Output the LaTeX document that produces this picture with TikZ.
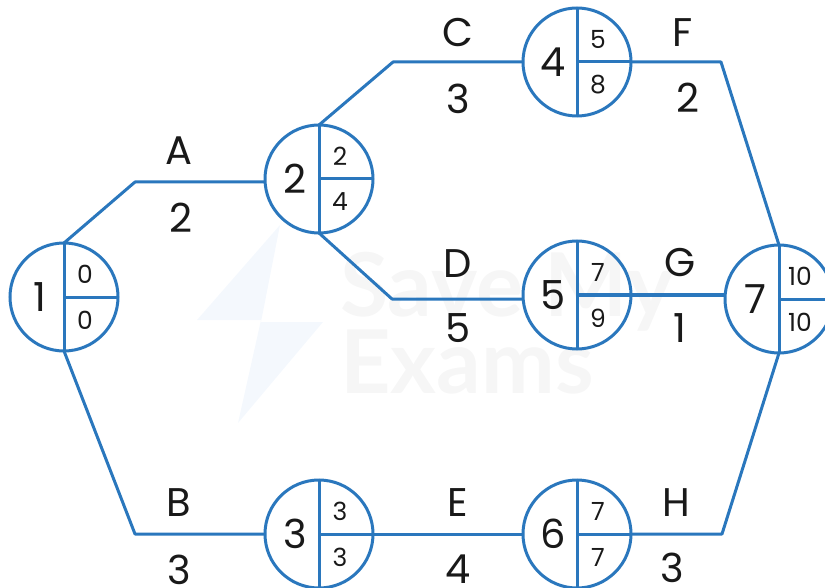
\documentclass[tikz,border=0pt]{standalone}
\usepackage{fontspec}
\setmainfont{Poppins}
\newfontfamily\markfont{Lato}
\definecolor{netblue}{HTML}{2A77BD}
\definecolor{markblue}{HTML}{F4F8FD}
\definecolor{markgray}{HTML}{F6F6F6}
\tikzset{
    event/.style={circle,draw=netblue,line width=3pt,minimum size=108pt,inner sep=0pt,outer sep=0pt},
    activity/.style={draw=netblue,line width=3pt,line join=round},
    biglabel/.style={inner sep=0pt,font=\fontsize{40}{40}\selectfont,text=black!90},
    smalllabel/.style={inner sep=0pt,font=\fontsize{25}{25}\selectfont,text=black!90},
    marktext/.style={inner sep=0pt,anchor=west,text=markgray,font=\markfont\bfseries\fontsize{88}{88}\selectfont}
}

\begin{document}
\begin{tikzpicture}[x=1pt,y=-1pt]
        \clip (0,0) rectangle (825,588);
        \fill[markblue] (280,225) -- (197,320) -- (261,320) -- (238,423) -- (323,322) -- (261,322) -- cycle;
        \node[marktext] (savemark) at (340,292) {Save My};
        \node[marktext] (exammark) at (340,362) {Exams};
        \foreach \id/\x/\y/\num/\early/\late in {1/64/297/1/0/0,2/319/179/2/2/4,3/319/534/3/3/3,
                4/577/62/4/5/8,5/577/295/5/7/9,6/577/534/6/7/7,7/779/299/7/10/10}{
            \node[event] (n\id) at (\x,\y) {};
            \draw[activity] (n\id.north) -- (n\id.south);
            \draw[activity] (n\id.center) -- (n\id.east);
            \node[biglabel] (num\id) at (\x-24,\y) {\num};
            \node[smalllabel] (early\id) at (\x+21,\y-23) {\early};
            \node[smalllabel] (late\id) at (\x+21,\y+23) {\late};
        }
        \coordinate (bendA) at (135,182);
        \coordinate (bendB) at (135,534);
        \coordinate (bendC) at (393,62);
        \coordinate (bendD) at (392,299);
        \coordinate (bendF) at (721,62);
        \coordinate (bendH) at (722,534);
        \draw[activity] (n1.north) -- (bendA) -- (bendA -| n2.west);
        \draw[activity] (n1.south) -- (bendB) -- (n3.west);
        \draw[activity] (n2.north) -- (bendC) -- (n4.west);
        \draw[activity] (n2.south) -- (bendD) -- (bendD -| n5.west);
        \draw[activity] (n3.east) -- (n6.west);
        \draw[activity] (n4.east) -- (bendF) -- (n7.north);
        \draw[activity] (n5.east) -- (n5.east -| n7.west);
        \draw[activity] (n6.east) -- (bendH) -- (n7.south);
        \node[biglabel] (nameA) at (179,151) {A};
        \node[biglabel] (timeA) at (181,218) {2};
        \node[biglabel] (nameB) at (179,503) {B};
        \node[biglabel] (timeB) at (179,570) {3};
        \node[biglabel] (nameC) at (458,33) {C};
        \node[biglabel] (timeC) at (458,99) {3};
        \node[biglabel] (nameD) at (458,264) {D};
        \node[biglabel] (timeD) at (458,328) {5};
        \node[biglabel] (nameE) at (458,503) {E};
        \node[biglabel] (timeE) at (458,569) {4};
        \node[biglabel] (nameF) at (683,33) {F};
        \node[biglabel] (timeF) at (688,98) {2};
        \node[biglabel] (nameG) at (680,263) {G};
        \node[biglabel] (timeG) at (680,328) {1};
        \node[biglabel] (nameH) at (676,503) {H};
        \node[biglabel] (timeH) at (672,568) {3};
    \end{tikzpicture}
\end{document}
